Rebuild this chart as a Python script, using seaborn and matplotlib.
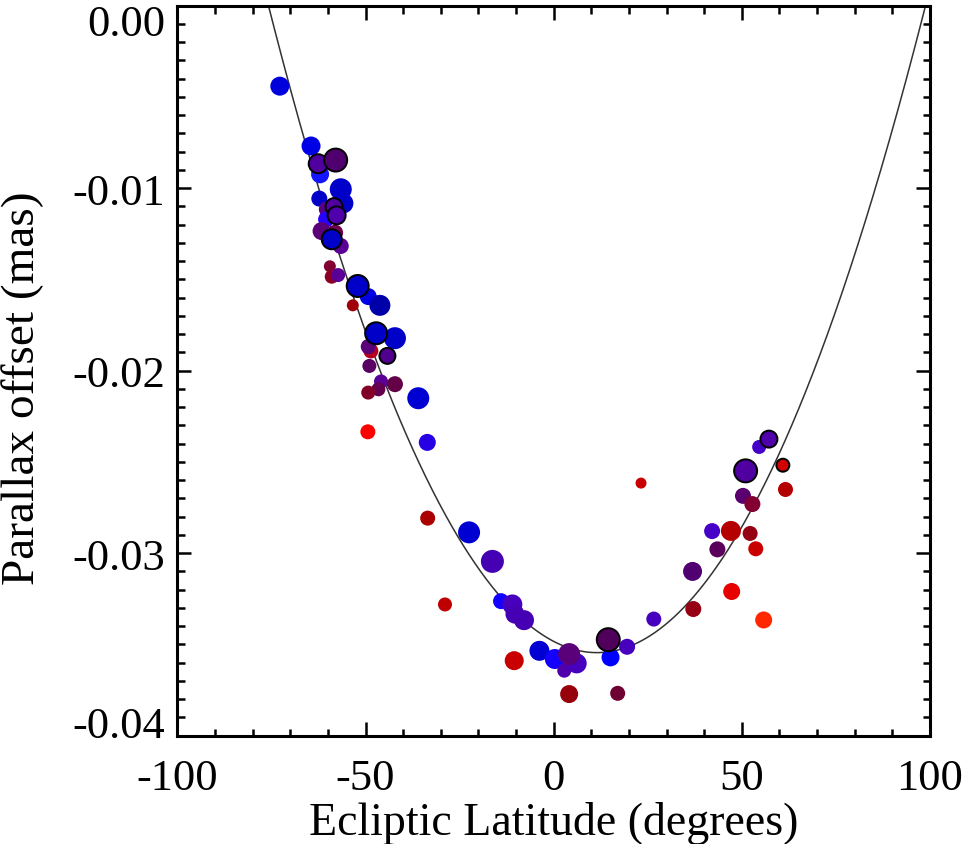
import numpy as np
import pandas as pd
import matplotlib
matplotlib.use("Agg")
import matplotlib.pyplot as plt
import matplotlib.transforms as mtransforms
from matplotlib.ticker import MultipleLocator
import seaborn as sns

# Ecliptic latitude (deg) of each field
lat = [-72.8, -64.5, -62.1, -56.6, -62.3, -55.9, -60.3, -60.5, -61.7, -58.1,
       -56.6, -59.5, -59.0, -57.3, -49.3, -46.2, -53.4, -42.2, -48.6, -49.3,
       -49.0, -45.9, -46.6, -42.2, -49.3, -36.0, -49.4, -33.6, -33.5, -22.5,
       -16.3, -28.9, -14.0, -11.0, -10.3, -7.9, -10.5, -3.8, 0.3, 2.8,
       6.1, 4.1, 4.1, 15.1, 19.5, 17.0, 23.2, 26.6, 36.9, 37.1,
       54.6, 61.6, 50.3, 52.8, 42.1, 47.1, 52.2, 43.5, 53.7, 47.3,
       55.8,
       -62.6, -57.95, -58.4, -57.7, -59.0, -52.1, -47.2, -44.2, 14.5, 57.2,
       51.0, 60.9]

# Mean parallax offset (mas)
offset = [-0.00441, -0.00769, -0.00924, -0.01006, -0.01057, -0.01083, -0.01116, -0.01171, -0.01235, -0.01244,
          -0.01317, -0.01428, -0.01485, -0.01476, -0.01594, -0.01642, -0.01642, -0.01822, -0.01892, -0.01868,
          -0.01974, -0.02059, -0.02102, -0.02074, -0.02120, -0.02151, -0.02335, -0.02393, -0.02808, -0.02886,
          -0.03045, -0.03281, -0.03263, -0.03281, -0.03334, -0.03367, -0.03589, -0.03535, -0.03580, -0.03644,
          -0.03604, -0.03553, -0.03772, -0.03571, -0.03513, -0.03768, -0.02616, -0.03361, -0.03100, -0.03306,
          -0.02418, -0.02651, -0.02686, -0.02731, -0.02879, -0.02878, -0.02892, -0.02979, -0.02976, -0.03210,
          -0.03366,
          -0.00866, -0.00846, -0.01101, -0.01149, -0.01280, -0.01536, -0.01795, -0.01919, -0.03474, -0.02375,
          -0.02549, -0.02518]

# Point colour per field
colour = ["#0000dc", "#0000e6", "#1414ff", "#0000c8", "#0000c8", "#0000c8", "#5a0082", "#2800ff", "#5a0078", "#6e0050",
          "#5a0096", "#820032", "#8c0028", "#5a0096", "#0000e6", "#0000aa", "#a0000a", "#0000c8", "#b4001e", "#5a0078",
          "#5a0064", "#5a0096", "#640050", "#640046", "#820028", "#0000d2", "#ff0000", "#2800e6", "#aa0000", "#0000d2",
          "#4600b4", "#be0000", "#1400ff", "#4600be", "#4600b4", "#4600b4", "#c80000", "#0000d2", "#1400ff", "#5000aa",
          "#4600be", "#5a0078", "#96000a", "#0000ff", "#4600be", "#6e0032", "#c80000", "#4600be", "#500070", "#960014",
          "#4600c8", "#b40000", "#5a006e", "#820032", "#4600c8", "#b40000", "#960014", "#5a005a", "#c80000", "#e60000",
          "#ff2800",
          "#5000a0", "#50006e", "#5000a0", "#5000aa", "#0000c8", "#0000c8", "#0000c8", "#50008c", "#50005a", "#5000aa",
          "#5000a0", "#d20000"]

# Marker radius class (pixels)
radius = [9.5, 9.5, 9.0, 11.0, 8.0, 10.0, 8.0, 8.0, 9.0, 8.0,
          8.0, 6.0, 7.0, 7.0, 8.5, 10.5, 6.0, 11.0, 7.5, 7.5,
          7.0, 7.0, 7.0, 8.0, 7.0, 11.0, 7.5, 8.5, 7.5, 11.0,
          11.5, 7.0, 8.0, 10.0, 9.5, 10.0, 9.5, 10.0, 10.0, 7.0,
          10.0, 11.0, 9.0, 9.0, 8.0, 7.5, 5.5, 7.5, 9.5, 8.0,
          7.0, 7.5, 8.0, 8.0, 8.0, 10.0, 7.5, 8.0, 7.5, 8.5,
          8.5,
          9.5, 11.5, 8.5, 9.0, 10.0, 11.0, 11.0, 8.0, 11.5, 8.5,
          11.5, 6.5]

# Fields outlined in black
outlined = [False] * 61 + [True] * 12

# Quadratic fit: offset = curv * (lat - lat0)**2 + off0
fit_lat0 = 11.5
fit_off0 = -0.03545
fit_curv = 4.65e-6

DPI = 100
sns.set_theme(style="white")
plt.rcParams["font.family"] = ["Liberation Serif", "DejaVu Serif"]
plt.rcParams["text.color"] = "black"
plt.rcParams["axes.labelcolor"] = "black"

df = pd.DataFrame({"lat": lat, "offset": offset, "colour": colour,
                   "radius": radius, "outlined": outlined})
palette = {c: c for c in df["colour"].unique()}
size_map = {r: (2 * r * 72 / DPI) ** 2 for r in df["radius"].unique()}

fig = plt.figure(figsize=(9.64, 8.45), dpi=DPI)
ax = fig.add_axes([0.1841, 0.1282, 0.7806, 0.8639])

curve_x = np.linspace(-100, 100, 801)
curve = pd.DataFrame({"lat": curve_x,
                      "offset": fit_curv * (curve_x - fit_lat0) ** 2 + fit_off0})
sns.lineplot(data=curve, x="lat", y="offset", ax=ax, color="#333333",
             linewidth=1.1, zorder=1)

plain = df[~df["outlined"]]
ringed = df[df["outlined"]]
sns.scatterplot(data=plain, x="lat", y="offset", hue="colour", palette=palette,
                size="radius", sizes=size_map, edgecolor="none", linewidth=0,
                alpha=1, legend=False, ax=ax, zorder=2)
sns.scatterplot(data=ringed, x="lat", y="offset", hue="colour", palette=palette,
                size="radius", sizes=size_map, edgecolor="black", linewidth=1.4,
                alpha=1, legend=False, ax=ax, zorder=3)

ax.set_xlim(-100, 100)
ax.set_ylim(-0.04, 0.0)
ax.set_xticks([-100, -50, 0, 50, 100])
ax.set_yticks([-0.04, -0.03, -0.02, -0.01, 0.0])
ax.set_yticklabels(["-0.04", "-0.03", "-0.02", "-0.01", "0.00"])
ax.set_xticklabels(["-100", "-50", "0", "50", "100"])
ax.xaxis.set_minor_locator(MultipleLocator(10))
ax.yaxis.set_minor_locator(MultipleLocator(0.001))

for s in ax.spines.values():
    s.set_linewidth(2.2)
    s.set_color("black")
ax.tick_params(which="both", direction="in", top=True, right=True,
               bottom=True, left=True, colors="black", labelsize=32)
ax.tick_params(which="major", length=10, width=1.8)
ax.tick_params(which="minor", length=5.4, width=1.8)
ax.tick_params(axis="x", which="major", pad=16)
ax.tick_params(axis="y", which="major", pad=9)

ax.set_xlabel("Ecliptic Latitude (degrees)", fontsize=33, color="black")
ax.set_ylabel("Parallax offset (mas)", fontsize=34, color="black")
ax.xaxis.set_label_coords(0.5, -0.0894)
ax.yaxis.set_label_coords(-0.177, 0.477)

# keep the end labels of the y axis inside the frame
yl = ax.get_yticklabels()
shift = 14 / DPI
yl[0].set_transform(yl[0].get_transform() +
                    mtransforms.ScaledTranslation(0, shift, fig.dpi_scale_trans))
yl[-1].set_transform(yl[-1].get_transform() +
                     mtransforms.ScaledTranslation(0, -shift, fig.dpi_scale_trans))

fig.savefig("out.png", dpi=DPI, facecolor="white")
